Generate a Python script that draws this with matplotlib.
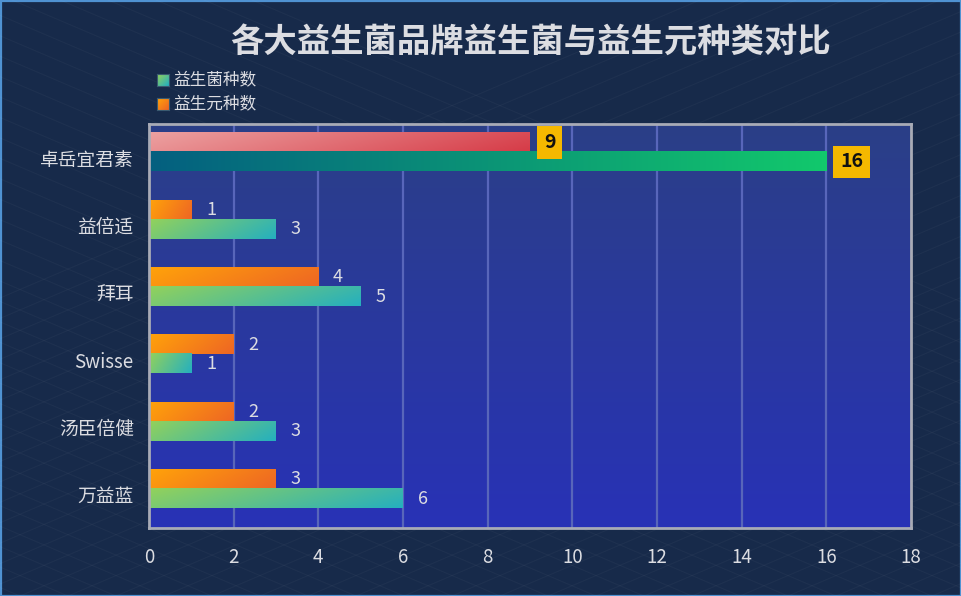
import numpy as np
import matplotlib
matplotlib.use('Agg')
from matplotlib import pyplot as plt
from matplotlib.colors import to_rgb
from matplotlib.patches import Rectangle

plt.rcParams['font.family'] = ['Noto Sans CJK SC', 'DejaVu Sans']

# data
brands = ['卓岳宜君素', '益倍适', '拜耳', 'Swisse', '汤臣倍健', '万益蓝']
probiotic = [16, 3, 5, 1, 3, 6]
prebiotic = [9, 1, 4, 2, 2, 3]
series_names = ['益生菌种数', '益生元种数']
title = '各大益生菌品牌益生菌与益生元种类对比'

green = ('#92d15c', '#26b0be')
orange = ('#ffa20a', '#ee6624')
top_green = ('#046080', '#12c86c')
top_red = ('#eca0a0', '#d63c48')
text_col = '#dcdde2'


def grad_img(c0, c1, nx=64, ny=8, tilt=0.2):
    a, b = np.array(to_rgb(c0)), np.array(to_rgb(c1))
    xx, yy = np.meshgrid(np.linspace(0, 1, nx), np.linspace(0, 1, ny))
    t = (xx * (1 - tilt) + yy * tilt)[..., None]
    return a + (b - a) * t


def grad_bar(ax, y, w, h, cols, tilt=0.2):
    ax.imshow(grad_img(*cols, tilt=tilt), extent=(0, w, y + h / 2, y - h / 2),
              aspect='auto', interpolation='bilinear', zorder=3)


fig = plt.figure(figsize=(9.62, 5.96), dpi=100, facecolor='#172a4a')

# background lattice
bg = fig.add_axes([0, 0, 1, 1], zorder=-10)
bg.set_xlim(0, 962)
bg.set_ylim(0, 596)
bg.axis('off')
for k in range(-700, 1700, 48):
    bg.plot([k, k + 1400], [0, 596], color='#ffffff', alpha=0.03, lw=0.8)
    bg.plot([k, k - 1400], [0, 596], color='#ffffff', alpha=0.03, lw=0.8)
bg.add_patch(Rectangle((0.5, 0.5), 961, 595, fill=False, ec='#4f92d2', lw=1.6))

ax = fig.add_axes([149 / 962, 1 - 528 / 596, 762 / 962, 404 / 596])
ax.set_facecolor('#2a3a98')
panel = np.linspace(to_rgb('#2b3f87'), to_rgb('#2832b6'), 64).reshape(64, 1, 3)
ax.imshow(panel, extent=(0, 1, 0, 1), transform=ax.transAxes, aspect='auto',
          interpolation='bilinear', zorder=0)

ax.set_xlim(0, 18)
ax.set_ylim(5.5, -0.5)
ax.set_xticks(range(0, 19, 2))
for v in range(2, 18, 2):
    ax.axvline(v, color='#5866ba', lw=1.6, zorder=1)

h = 0.285
off_top = -0.222
off_bot = 0.062
for i, (p, q) in enumerate(zip(probiotic, prebiotic)):
    y_top = i + off_top
    y_bot = i + off_bot
    if i == 0:
        grad_bar(ax, y_top, q, h, top_red, tilt=0.15)
        grad_bar(ax, y_bot, p, h, top_green, tilt=0.0)
        for v, y in ((q, y_top), (p, y_bot)):
            ax.annotate(str(v), (v, y), xytext=(10, 0), textcoords='offset points',
                        ha='left', va='center', fontsize=14, fontweight='bold',
                        color='#111111', zorder=5,
                        bbox=dict(boxstyle='square,pad=0.35', fc='#f5b800', ec='none'))
    else:
        grad_bar(ax, y_top, q, h, orange)
        grad_bar(ax, y_bot, p, h, green)
        for v, y in ((q, y_top), (p, y_bot)):
            ax.annotate(str(v), (v, y), xytext=(10.5, 0), textcoords='offset points',
                        ha='left', va='center', fontsize=13, color=text_col, zorder=5)

ax.set_yticks(range(len(brands)))
ax.set_yticklabels(brands)
ax.tick_params(axis='y', length=0, pad=11, labelsize=13.5, labelcolor=text_col)
ax.tick_params(axis='x', length=0, pad=14, labelsize=13.5, labelcolor=text_col)
for s in ax.spines.values():
    s.set_color('#a8abb6')
    s.set_linewidth(2)
    s.set_zorder(6)

fig.text(531 / 962, 1 - 42 / 596, title, ha='center', va='center',
         fontsize=24, fontweight='bold', color=text_col)

# legend
for j, (name, cols) in enumerate(zip(series_names, (green, orange))):
    yc = 80 + 24 * j
    sw = fig.add_axes([157 / 962, 1 - (yc + 6) / 596, 12 / 962, 12 / 596])
    sw.imshow(grad_img(*cols, nx=8, ny=8, tilt=0.5), aspect='auto', interpolation='bilinear')
    sw.set_xticks([])
    sw.set_yticks([])
    for s in sw.spines.values():
        s.set_color('#3a5a70')
        s.set_linewidth(0.8)
    fig.text(173 / 962, 1 - yc / 596, name, ha='left', va='center',
             fontsize=12, color=text_col)

plt.savefig('out.png', dpi=100, facecolor=fig.get_facecolor())
